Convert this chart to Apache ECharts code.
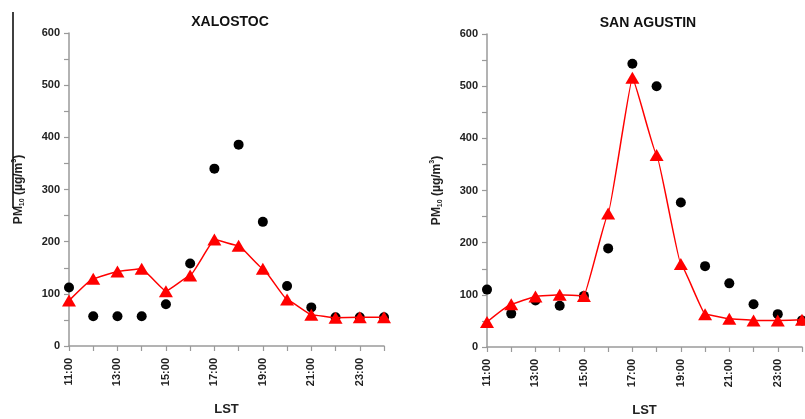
<!DOCTYPE html>
<html>
<head>
<meta charset="utf-8">
<script src="https://cdn.jsdelivr.net/npm/echarts@6/dist/echarts.min.js"></script>
<style>html,body{margin:0;padding:0;background:#fff}#c{width:805px;height:419px}</style>
</head>
<body>
<div id="c"></div>
<script>
var hours = ['11:00','12:00','13:00','14:00','15:00','16:00','17:00','18:00','19:00','20:00','21:00','22:00','23:00','24:00'];
var titles = ['XALOSTOC', 'SAN AGUSTIN'];
var yTicks = [0, 100, 200, 300, 400, 500, 600];
var xalostocObs = [112, 57, 57, 57, 80, 158, 340, 386, 238, 115, 74, 55, 55, 55];
var xalostocModel = [87, 129, 143, 148, 105, 135, 204, 192, 148, 89, 60, 54, 55, 55];
var sanAgustinObs = [110, 64, 89, 79, 98, 189, 543, 500, 277, 155, 122, 82, 63, 51];
var sanAgustinModel = [48, 82, 97, 100, 98, 256, 516, 368, 159, 63, 54, 51, 51, 52];

var font = 'Liberation Sans, Arial, sans-serif';
var txt = '#222';
var axisCol = '#9a9a9a';

function xAxis(idx) {
  return {
    type: 'category', gridIndex: idx, data: hours, boundaryGap: false,
    name: 'LST', nameLocation: 'middle', nameGap: 57,
    nameTextStyle: {fontFamily: font, fontWeight: 'bold', fontSize: 13, color: txt},
    axisLine: {lineStyle: {color: axisCol, width: 1.5}},
    axisTick: {show: true, interval: 0, length: 5, lineStyle: {color: axisCol, width: 1.2}},
    axisLabel: {interval: 1, rotate: 90, margin: 12, fontFamily: font, fontWeight: 'bold', fontSize: 11, color: txt},
    splitLine: {show: false}
  };
}
function yAxis(idx) {
  return {
    type: 'value', gridIndex: idx, min: yTicks[0], max: yTicks[yTicks.length - 1], interval: 50,
    name: '{a|PM}{s|10}{a| (µg/m}{p|3}{a|)}', nameLocation: 'middle', nameGap: 43, nameRotate: 90,
    nameTextStyle: {
      rich: {
        a: {fontFamily: font, fontWeight: 'bold', fontSize: 12, color: txt, lineHeight: 15, verticalAlign: 'middle'},
        s: {fontFamily: font, fontWeight: 'bold', fontSize: 7, color: txt, lineHeight: 15, verticalAlign: 'bottom'},
        p: {fontFamily: font, fontWeight: 'bold', fontSize: 7, color: txt, lineHeight: 15, verticalAlign: 'top'}
      }
    },
    axisLine: {show: true, lineStyle: {color: axisCol, width: 1.5}},
    axisTick: {show: true, length: 5, lineStyle: {color: axisCol, width: 1.2}},
    axisLabel: {margin: 9, fontFamily: font, fontWeight: 'bold', fontSize: 11, color: txt,
      formatter: function (v) { return yTicks.indexOf(v) >= 0 ? String(v) : ''; }},
    splitLine: {show: false}
  };
}
function obs(idx, data) {
  return {type: 'scatter', xAxisIndex: idx, yAxisIndex: idx, data: data, symbol: 'circle', symbolSize: 10,
    itemStyle: {color: '#000', opacity: 1}, z: 2, clip: false};
}
function model(idx, data) {
  return {type: 'line', xAxisIndex: idx, yAxisIndex: idx, data: data, symbol: 'triangle', symbolSize: [14, 12],
    smooth: 0.1, smoothMonotone: 'x', lineStyle: {color: '#ff0000', width: 1.5}, itemStyle: {color: '#ff0000', opacity: 1}, z: 3, clip: false};
}

var chart = echarts.init(document.getElementById('c'), null, {renderer: 'canvas'});
chart.setOption({
  animation: false,
  backgroundColor: '#fff',
  title: [
    {text: titles[0], left: 225, top: 10, textAlign: 'center', textStyle: {fontFamily: font, fontWeight: 'bold', fontSize: 14, color: '#111'}},
    {text: titles[1], left: 643, top: 11, textAlign: 'center', textStyle: {fontFamily: font, fontWeight: 'bold', fontSize: 14, color: '#111'}}
  ],
  grid: [
    {left: 69, right: 421, top: 33, bottom: 73, outerBoundsMode: 'none', containLabel: false},
    {left: 487, right: 3, top: 34, bottom: 72, outerBoundsMode: 'none', containLabel: false}
  ],
  xAxis: [xAxis(0), xAxis(1)],
  yAxis: [yAxis(0), yAxis(1)],
  graphic: [{type: 'line', shape: {x1: 13, y1: 12, x2: 13, y2: 208}, style: {stroke: '#000', lineWidth: 1.5}, z: 10}],
  series: [obs(0, xalostocObs), model(0, xalostocModel), obs(1, sanAgustinObs), model(1, sanAgustinModel)]
});
</script>
</body>
</html>
